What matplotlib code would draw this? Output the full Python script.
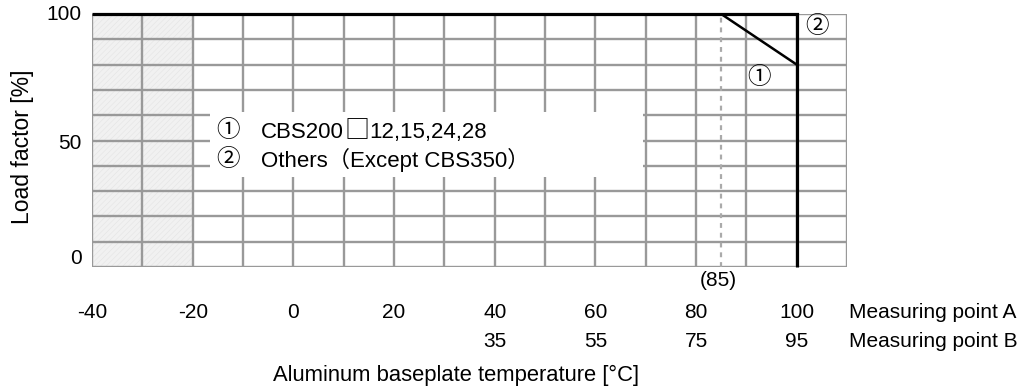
import matplotlib
matplotlib.use("Agg")
import matplotlib.pyplot as plt
from matplotlib.patches import Rectangle

plt.rcParams['font.family'] = ['Liberation Sans', 'Noto Sans CJK JP', 'DejaVu Sans']
plt.rcParams['hatch.linewidth'] = 0.4

# Derating curves (temperature at measuring point A, load factor %)
curve2_x = [-40, 100, 100]
curve2_y = [100, 100, 0]
curve1_x = [85, 100]
curve1_y = [100, 80]
knee_temp = 85

# Axis tick labels
ticks_a = [-40, -20, 0, 20, 40, 60, 80, 100]
ticks_b_pos = [40, 60, 80, 100]
ticks_b_lbl = ["35", "55", "75", "95"]
y_ticks = [0, 50, 100]

legend_line1 = ["CBS200", "\u25a1", "12,15,24,28"]
legend_line2 = "Others\uff08Except CBS350\uff09"
circled = ["\u2460", "\u2461"]

CJK = ['Noto Sans CJK JP', 'DejaVu Sans']

fig = plt.figure(figsize=(10.33, 3.89), dpi=100)
ax = fig.add_axes([0.0891, 0.3136, 0.7309, 0.6504])
ax.set_xlim(-40, 110)
ax.set_ylim(0, 100)
ax.axis('off')

FS = 15
LFS = 16
CFS = 17
grid_c = '#999999'
grid_lw = 1.7

# low-temperature shaded band
ax.add_patch(Rectangle((-40, 0), 20, 100, facecolor='#f1f1f1', edgecolor='#e4e4e4',
                       hatch='//////', linewidth=0, zorder=0))

for gx in range(-40, 111, 10):
    ax.plot([gx, gx], [0, 100], color=grid_c, lw=grid_lw, zorder=1, solid_capstyle='projecting')
for gy in range(0, 101, 10):
    ax.plot([-40, 110], [gy, gy], color=grid_c, lw=grid_lw, zorder=1, solid_capstyle='projecting')

# legend box
ax.add_patch(Rectangle((-16.6, 35.6), 86.0, 25.7, facecolor='white', edgecolor='none', zorder=2))
ax.text(-13.0, 53.8, circled[0], fontsize=CFS, ha='center', va='center', zorder=3, family=CJK)
ax.text(-13.0, 42.3, circled[1], fontsize=CFS, ha='center', va='center', zorder=3, family=CJK)

yb1, yb2 = 51.0, 39.5
prev = ax.text(-6.4, yb1, legend_line1[0], fontsize=LFS, ha='left', va='baseline', zorder=3)
prev = ax.annotate(legend_line1[1], xy=(1, yb1), xycoords=(prev, 'data'), fontsize=LFS + 2,
                   ha='left', va='baseline', zorder=3, family=CJK)
ax.annotate(legend_line1[2], xy=(1, yb1), xycoords=(prev, 'data'), fontsize=LFS,
            ha='left', va='baseline', zorder=3)
ax.text(-6.4, yb2, legend_line2, fontsize=LFS, ha='left', va='baseline', zorder=3)

# dashed reference line at the knee temperature
ax.plot([knee_temp, knee_temp], [0, 100], color='#aaaaaa', lw=1.6, ls=(0, (2.2, 2.2)), zorder=3)

# curves
ax.plot(curve2_x, curve2_y, color='black', lw=2.3, zorder=4, solid_capstyle='butt',
        solid_joinstyle='miter', clip_on=False)
ax.plot(curve1_x, curve1_y, color='black', lw=1.8, zorder=4)

ax.text(104.0, 94.9, circled[1], fontsize=CFS, ha='center', va='center', zorder=5, family=CJK)
ax.text(92.6, 75.1, circled[0], fontsize=CFS, ha='center', va='center', zorder=5, family=CJK)

# tick labels
for t in ticks_a:
    ax.text(t, -17.8, str(t), fontsize=FS, ha='center', va='center', clip_on=False)
for p, l in zip(ticks_b_pos, ticks_b_lbl):
    ax.text(p, -29.6, l, fontsize=FS, ha='center', va='center', clip_on=False)
ax.text(110.4, -17.8, "Measuring point A", fontsize=FS, ha='left', va='center', clip_on=False)
ax.text(110.4, -29.6, "Measuring point B", fontsize=FS, ha='left', va='center', clip_on=False)
ax.text(knee_temp - 0.5, -5.3, f"({knee_temp})", fontsize=FS, ha='center', va='center', clip_on=False)
ax.text(32.3, -42.7, "Aluminum baseplate temperature [\u00b0C]", fontsize=FS + 0.8,
        ha='center', va='center', clip_on=False)

y_lbl_pos = {0: 3.5, 50: 49.0, 100: 100.0}
for yt in y_ticks:
    ax.text(-42.0, y_lbl_pos[yt], str(yt), fontsize=FS, ha='right', va='center', clip_on=False)
ax.text(-53.9, 47.4, "Load factor [%]", fontsize=FS + 1.5, rotation=90, ha='center', va='center',
        clip_on=False)

fig.savefig("out.png", dpi=100)
